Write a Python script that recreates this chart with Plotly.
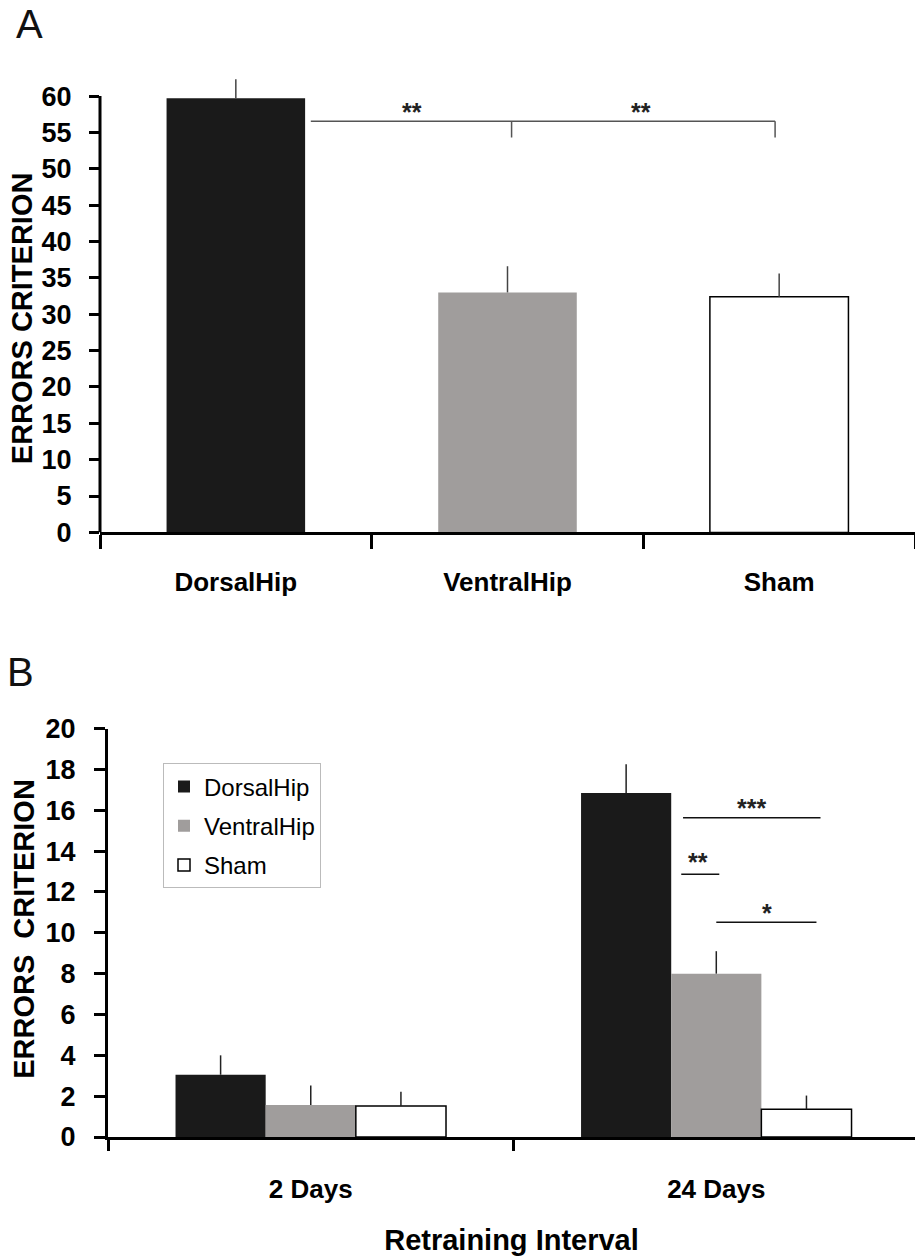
import plotly.graph_objects as go

# ---------------- data ----------------
groups_a = ["DorsalHip", "VentralHip", "Sham"]
errors_a = [59.7, 33.0, 32.4]
sem_a = [2.6, 3.6, 3.2]

intervals_b = ["2 Days", "24 Days"]
dorsal_b = [3.05, 16.85]
dorsal_sem_b = [0.95, 1.4]
ventral_b = [1.57, 8.0]
ventral_sem_b = [0.95, 1.1]
sham_b = [1.52, 1.36]
sham_sem_b = [0.7, 0.67]

y_ticks_a = list(range(0, 61, 5))
y_ticks_b = list(range(0, 21, 2))

fill = {"DorsalHip": "#1a1a1a", "VentralHip": "#a09d9c", "Sham": "#ffffff"}
edge = {"DorsalHip": 0, "VentralHip": 0, "Sham": 1.5}

W, H = 915, 1260
SQ = 0.98  # vertical squeeze observed in the captured page


def py(row):
    """paper y for a target pixel row (compensating the capture squeeze)"""
    r = H / 2 + (row - H / 2) / SQ
    return 1 - r / H


SANS = "Liberation Sans, Arial, Helvetica, sans-serif"
ytick_font = dict(family=SANS, size=27, color="black", weight="bold")
xtick_font = dict(family=SANS, size=26, color="black", weight="bold")

fig = go.Figure()

# ---------------- panel A ----------------
fig.add_trace(go.Bar(
    x=groups_a, y=errors_a, width=0.51,
    marker=dict(color=[fill[g] for g in groups_a],
                line=dict(color="black", width=[edge[g] for g in groups_a])),
    error_y=dict(type="data", symmetric=False, array=sem_a,
                 arrayminus=[0] * len(sem_a), color="#444", thickness=1.5, width=0),
    xaxis="x", yaxis="y", showlegend=False, hoverinfo="x+y",
))

# ---------------- panel B ----------------
for name, vals, sems in [("DorsalHip", dorsal_b, dorsal_sem_b),
                         ("VentralHip", ventral_b, ventral_sem_b),
                         ("Sham", sham_b, sham_sem_b)]:
    fig.add_trace(go.Bar(
        x=intervals_b, y=vals, name=name, legendgroup=name,
        marker=dict(color=fill[name], line=dict(color="black", width=edge[name])),
        error_y=dict(type="data", symmetric=False, array=sems,
                     arrayminus=[0] * len(sems), color="#222", thickness=1.5, width=0),
        xaxis="x2", yaxis="y2",
    ))

axis_common = dict(showgrid=False, zeroline=False, ticks="outside", tickwidth=3,
                   tickcolor="black")

# panel A: value 0 at row 532, value 60 at row 94 -> top of range (64) above that
a_bot, a_60 = py(532), py(94)
a_top = a_bot + (a_60 - a_bot) * 64 / 60
b_bot, b_top = py(1139), py(729)

fig.update_layout(
    width=W, height=H,
    margin=dict(l=0, r=0, t=0, b=0),
    paper_bgcolor="white", plot_bgcolor="white",
    barmode="group", bargap=0.333, bargroupgap=0,
    xaxis=dict(domain=[100 / W, 1], range=[-0.5, 2.5], type="category",
               tickson="boundaries", ticklen=14, showline=True, linewidth=3,
               linecolor="black", anchor="y", ticklabelstandoff=24,
               tickfont=xtick_font, **axis_common),
    yaxis=dict(domain=[a_bot, a_top], range=[0, 64], tickmode="array",
               tickvals=y_ticks_a, ticklen=10, showline=False, anchor="x",
               ticklabelstandoff=12, tickfont=ytick_font, **axis_common),
    xaxis2=dict(domain=[108 / W, 1], range=[-0.5, 1.49], type="category",
                tickson="boundaries", ticklen=11, showline=True, linewidth=3,
                linecolor="black", anchor="y2", ticklabelstandoff=27,
                tickfont=xtick_font,
                title=dict(text="Retraining Interval", standoff=27,
                           font=dict(family=SANS, size=29, color="black", weight="bold")),
                **axis_common),
    yaxis2=dict(domain=[b_bot, b_top], range=[0, 20], tickmode="array",
                tickvals=y_ticks_b, ticklen=11, showline=True, linewidth=3,
                linecolor="black", anchor="x2", ticklabelstandoff=13,
                tickfont=ytick_font, **axis_common),
    legend=dict(x=163 / W, y=py(764), xanchor="left", yanchor="top",
                bgcolor="white", bordercolor="#bbbbbb", borderwidth=1,
                font=dict(family=SANS, size=24, color="black"),
                itemwidth=30, tracegroupgap=5, traceorder="grouped"),
)

# y-axis line of panel A (stops at 60 like the original)
fig.add_shape(type="line", xref="x domain", yref="y", x0=0, x1=0, y0=0, y1=60,
              line=dict(color="black", width=3))

# significance brackets, panel A
line_a = dict(color="#555", width=1.5)
fig.add_shape(type="line", xref="x", yref="y", x0=0.276, x1=1.985, y0=56.55, y1=56.55, line=line_a)
fig.add_shape(type="line", xref="x", yref="y", x0=1.015, x1=1.015, y0=56.55, y1=54.3, line=line_a)
fig.add_shape(type="line", xref="x", yref="y", x0=1.985, x1=1.985, y0=56.55, y1=54.3, line=line_a)

star_font = dict(family=SANS, size=25, color="#222", weight="bold")
fig.add_annotation(x=0.65, y=57.8, xref="x", yref="y", text="**", showarrow=False, font=star_font)
fig.add_annotation(x=1.49, y=57.8, xref="x", yref="y", text="**", showarrow=False, font=star_font)

# significance lines, panel B
line_b = dict(color="#111", width=1.5)
fig.add_shape(type="line", xref="x2", yref="y2", x0=0.918, x1=1.257, y0=15.63, y1=15.63, line=line_b)
fig.add_shape(type="line", xref="x2", yref="y2", x0=0.9136, x1=1.0074, y0=12.87, y1=12.87, line=line_b)
fig.add_shape(type="line", xref="x2", yref="y2", x0=1.0, x1=1.247, y0=10.52, y1=10.52, line=line_b)
fig.add_annotation(x=1.086, y=16.12, xref="x2", yref="y2", text="***", showarrow=False, font=star_font)
fig.add_annotation(x=0.956, y=13.46, xref="x2", yref="y2", text="**", showarrow=False, font=star_font)
fig.add_annotation(x=1.126, y=10.96, xref="x2", yref="y2", text="*", showarrow=False, font=star_font)

# y-axis titles
title_font = dict(family=SANS, size=29, color="black", weight="bold")
fig.add_annotation(x=22 / W, y=py(317), xref="paper", yref="paper",
                   xanchor="center", yanchor="middle",
                   text="ERRORS CRITERION", textangle=-90, showarrow=False, font=title_font)
fig.add_annotation(x=24 / W, y=py(930), xref="paper", yref="paper",
                   xanchor="center", yanchor="middle",
                   text="ERRORS  CRITERION", textangle=-90, showarrow=False, font=title_font)

# panel letters
letter_font = dict(family=SANS, size=40, color="#111")
fig.add_annotation(x=29 / W, y=py(22), xref="paper", yref="paper",
                   xanchor="center", yanchor="middle",
                   text="A", showarrow=False, font=letter_font)
fig.add_annotation(x=20 / W, y=py(672), xref="paper", yref="paper",
                   xanchor="center", yanchor="middle",
                   text="B", showarrow=False, font=letter_font)

fig.write_html("out.html",
               config={"displayModeBar": False},
               post_script="document.body.style.margin='0';"
                           "document.body.style.overflow='hidden';")
